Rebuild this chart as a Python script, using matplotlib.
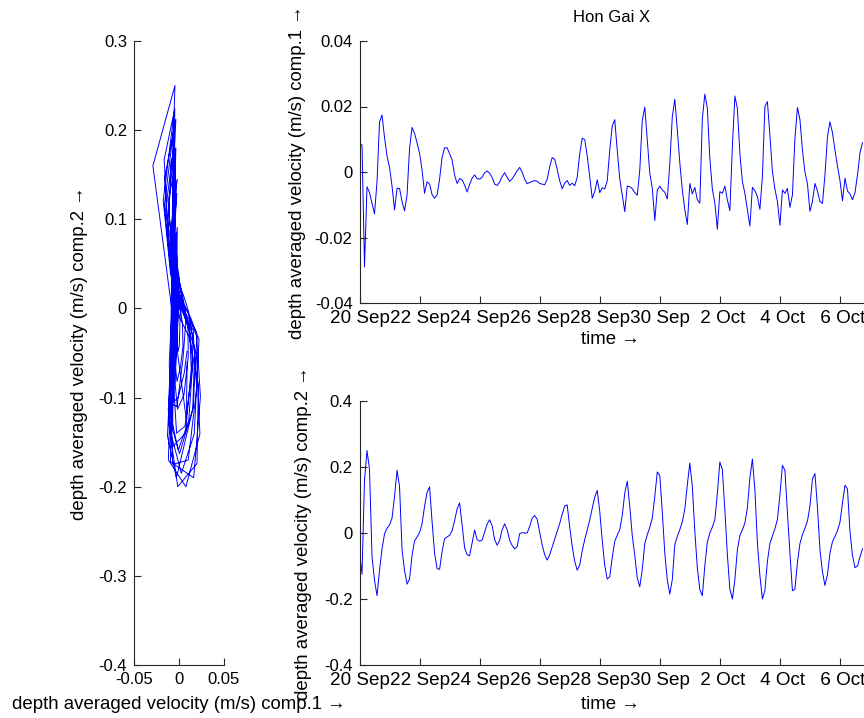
import numpy as np
import matplotlib
matplotlib.use('Agg')
import matplotlib.pyplot as plt

plt.rcParams['font.family'] = ['Liberation Sans', 'DejaVu Sans']
plt.rcParams['font.size'] = 12

# Hon Gai X, depth averaged velocity, every 2 hours from 20 Sep 00:00
hours = np.arange(0, 404, 2)

# comp.1 (m/s)
u = [0.0090, 0.0082, -0.0290, -0.0045, -0.0063, -0.0095, -0.0128, -0.0029, 0.0153, 0.0174,
     0.0105, 0.0049, 0.0014, -0.0043, -0.0116, -0.0050, -0.0050, -0.0090, -0.0119, -0.0070,
     0.0072, 0.0136, 0.0118, 0.0089, 0.0057, 0.0006, -0.0065, -0.0030, -0.0037, -0.0069,
     -0.0080, -0.0070, -0.0022, 0.0045, 0.0074, 0.0074, 0.0056, 0.0037, -0.0009, -0.0035,
     -0.0020, -0.0024, -0.0040, -0.0061, -0.0038, -0.0019, -0.0009, -0.0020, -0.0022, -0.0016,
     -0.0002, 0.0003, -0.0004, -0.0016, -0.0037, -0.0041, -0.0031, -0.0014, -0.0002, -0.0016,
     -0.0029, -0.0021, -0.0009, 0.0004, 0.0014, -0.0001, -0.0022, -0.0036, -0.0032, -0.0029,
     -0.0026, -0.0028, -0.0035, -0.0037, -0.0039, -0.0022, 0.0016, 0.0044, 0.0039, 0.0008,
     -0.0027, -0.0051, -0.0034, -0.0026, -0.0041, -0.0034, -0.0042, -0.0016, 0.0055, 0.0103,
     0.0099, 0.0049, -0.0014, -0.0080, -0.0060, -0.0024, -0.0063, -0.0048, -0.0052, -0.0027,
     0.0067, 0.0140, 0.0160, 0.0065, -0.0021, -0.0072, -0.0121, -0.0043, -0.0045, -0.0051,
     -0.0063, -0.0071, 0.0006, 0.0158, 0.0198, 0.0099, -0.0004, -0.0050, -0.0148, -0.0055,
     -0.0043, -0.0055, -0.0062, -0.0082, 0.0026, 0.0169, 0.0222, 0.0128, 0.0028, -0.0055,
     -0.0116, -0.0160, -0.0035, -0.0067, -0.0047, -0.0085, -0.0095, 0.0163, 0.0238, 0.0194,
     0.0042, -0.0052, -0.0095, -0.0175, -0.0060, -0.0065, -0.0043, -0.0085, -0.0118, 0.0077,
     0.0232, 0.0194, 0.0057, -0.0029, -0.0065, -0.0116, -0.0165, -0.0047, -0.0057, -0.0075,
     -0.0114, -0.0014, 0.0200, 0.0215, 0.0113, 0.0002, -0.0052, -0.0090, -0.0163, -0.0055,
     -0.0065, -0.0050, -0.0108, -0.0070, 0.0103, 0.0197, 0.0160, 0.0067, 0.0000, -0.0036,
     -0.0120, -0.0090, -0.0035, -0.0058, -0.0090, -0.0096, -0.0009, 0.0108, 0.0153, 0.0120,
     0.0067, 0.0018, -0.0026, -0.0088, -0.0019, -0.0058, -0.0067, -0.0085, -0.0063, -0.0009,
     0.0059, 0.0089]

# comp.2 (m/s)
v = [-0.060, -0.125, 0.160, 0.250, 0.192, -0.071, -0.143, -0.190, -0.113, -0.048,
     -0.003, 0.015, 0.024, 0.045, 0.111, 0.190, 0.141, -0.051, -0.114, -0.155,
     -0.140, -0.068, -0.024, -0.012, 0.001, 0.028, 0.081, 0.123, 0.140, 0.035,
     -0.061, -0.108, -0.110, -0.056, -0.017, -0.012, -0.007, 0.007, 0.037, 0.073,
     0.091, 0.025, -0.045, -0.066, -0.069, -0.030, 0.009, -0.020, -0.025, -0.021,
     0.003, 0.027, 0.040, 0.022, -0.020, -0.037, -0.022, 0.010, 0.028, 0.010,
     -0.022, -0.038, -0.048, -0.041, -0.002, 0.001, 0.000, 0.000, 0.020, 0.045,
     0.053, 0.042, 0.002, -0.036, -0.066, -0.082, -0.066, -0.042, -0.018, 0.005,
     0.029, 0.057, 0.082, 0.085, 0.018, -0.040, -0.086, -0.113, -0.097, -0.054,
     -0.020, 0.009, 0.040, 0.074, 0.109, 0.129, 0.066, -0.023, -0.098, -0.140,
     -0.132, -0.074, -0.025, -0.007, 0.010, 0.053, 0.121, 0.157, 0.081, -0.008,
     -0.068, -0.136, -0.163, -0.111, -0.032, -0.005, 0.017, 0.045, 0.111, 0.185,
     0.174, 0.063, -0.061, -0.143, -0.185, -0.141, -0.035, -0.010, 0.010, 0.034,
     0.073, 0.146, 0.212, 0.141, 0.005, -0.106, -0.172, -0.190, -0.099, -0.027,
     0.000, 0.018, 0.040, 0.121, 0.215, 0.192, 0.069, -0.066, -0.170, -0.200,
     -0.141, -0.051, -0.008, 0.010, 0.030, 0.076, 0.167, 0.224, 0.131, -0.030,
     -0.129, -0.200, -0.174, -0.086, -0.032, -0.009, 0.013, 0.041, 0.115, 0.205,
     0.190, 0.061, -0.061, -0.175, -0.170, -0.089, -0.032, -0.005, 0.015, 0.036,
     0.081, 0.164, 0.180, 0.078, -0.051, -0.118, -0.159, -0.126, -0.061, -0.026,
     -0.010, 0.007, 0.033, 0.091, 0.145, 0.133, 0.004, -0.068, -0.105, -0.100,
     -0.072, -0.048]

tick_days = [0, 2, 4, 6, 8, 10, 12, 14, 16]
tick_labels = ['20 Sep', '22 Sep', '24 Sep', '26 Sep', '28 Sep', '30 Sep',
               ' 2 Oct', ' 4 Oct', ' 6 Oct']

days = hours / 24.0
lab1 = 'depth averaged velocity (m/s) comp.1 \u2192'
lab2 = 'depth averaged velocity (m/s) comp.2 \u2192'
lab_fs = 13.4   # word labels come out wider than the digits in the reference
date_fs = 13.6

fig = plt.figure(figsize=(8.64, 7.18), dpi=100)


def matlab_axes(ax):
    ax.spines['top'].set_visible(False)
    ax.spines['right'].set_visible(False)
    for s in ['left', 'bottom']:
        ax.spines[s].set_linewidth(0.8)
        ax.spines[s].set_color('#262626')
    ax.tick_params(direction='in', length=5, width=0.8, color='#262626',
                   labelcolor='k', pad=5)


# left: hodograph
ax0 = fig.add_axes([134/864, 53/718, 90/864, 624/718])
ax0.plot(u, v, color='b', lw=0.7)
ax0.set_xlim(-0.05, 0.05)
ax0.set_ylim(-0.4, 0.3)
ax0.set_xticks([-0.05, 0, 0.05])
ax0.set_xticklabels(['-0.05', '0', '0.05'])
ax0.set_yticks([-0.4, -0.3, -0.2, -0.1, 0, 0.1, 0.2, 0.3])
ax0.set_yticklabels(['-0.4', '-0.3', '-0.2', '-0.1', '0', '0.1', '0.2', '0.3'])
matlab_axes(ax0)
ax0.set_xlabel(lab1, fontsize=lab_fs)
ax0.set_ylabel(lab2, fontsize=lab_fs)
ax0.xaxis.set_label_coords(0.5, -0.049)
ax0.yaxis.set_label_coords(-0.506, 0.5)

# top right: comp.1 time series
ax1 = fig.add_axes([359.5/864, 415/718, 504.5/864, 262/718])
ax1.plot(days, u, color='b', lw=0.7)
ax1.set_xlim(0, 16.8)
ax1.set_ylim(-0.04, 0.04)
ax1.set_yticks([-0.04, -0.02, 0, 0.02, 0.04])
ax1.set_yticklabels(['-0.04', '-0.02', '0', '0.02', '0.04'])
ax1.set_xticks(tick_days)
ax1.set_xticklabels(tick_labels, fontsize=date_fs)
matlab_axes(ax1)
ax1.set_title('Hon Gai X', pad=14, fontsize=12)
ax1.set_xlabel('time \u2192', fontsize=lab_fs)
ax1.set_ylabel(lab1, fontsize=lab_fs)
ax1.xaxis.set_label_coords(0.497, -0.108)
ax1.yaxis.set_label_coords(-0.107, 0.5)

# bottom right: comp.2 time series
ax2 = fig.add_axes([359.5/864, 53/718, 504.5/864, 264/718])
ax2.plot(days, v, color='b', lw=0.7)
ax2.set_xlim(0, 16.8)
ax2.set_ylim(-0.4, 0.4)
ax2.set_yticks([-0.4, -0.2, 0, 0.2, 0.4])
ax2.set_yticklabels(['-0.4', '-0.2', '0', '0.2', '0.4'])
ax2.set_xticks(tick_days)
ax2.set_xticklabels(tick_labels, fontsize=date_fs)
matlab_axes(ax2)
ax2.set_xlabel('time \u2192', fontsize=lab_fs)
ax2.set_ylabel(lab2, fontsize=lab_fs)
ax2.xaxis.set_label_coords(0.497, -0.118)
ax2.yaxis.set_label_coords(-0.095, 0.5)

fig.savefig('out.png', dpi=100)
